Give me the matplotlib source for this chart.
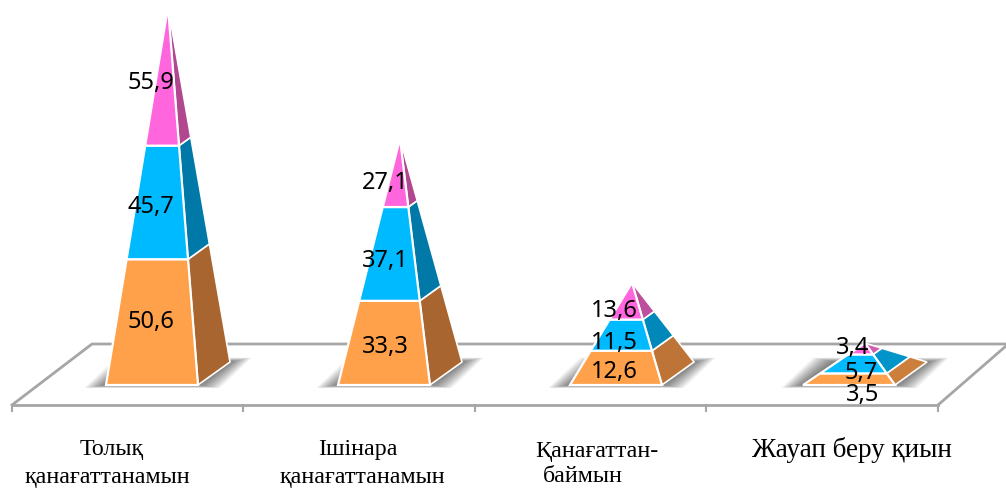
import matplotlib
matplotlib.use("Agg")
import matplotlib.pyplot as plt
from matplotlib.patches import Polygon

categories = ["Толық\nқанағаттанамын", "Ішінара\nқанағаттанамын", "Қанағаттан-\nбаймын", "Жауап беру қиын"]
series_bottom = [50.6, 33.3, 12.6, 3.5]
series_middle = [45.7, 37.1, 11.5, 5.7]
series_top = [55.9, 27.1, 13.6, 3.4]
bottom_labels = ["50,6", "33,3", "12,6", "3,5"]
middle_labels = ["45,7", "37,1", "11,5", "5,7"]
top_labels = ["55,9", "27,1", "13,6", "3,4"]

front_colors = ["#FFA04A", "#00BAFF", "#FF66DD"]
side_colors = [["#A8652F", "#0079A8", "#B0478F"],
               ["#A8652F", "#0079A8", "#B0478F"],
               ["#BE7436", "#0088BA", "#BC4F9E"],
               ["#CC7F3D", "#0094C8", "#D05FB0"]]

# all layout in pixels of the 1006x488 picture
px_per_unit = 2.41
front_left = [106, 338, 570, 803]
base_w = 92
base_dx, base_dy = 32, 23
front_y = 385
floor_ticks = [12, 243, 475, 706, 938]

# label x per pyramid and segment, y is shifted from the middle of the segment
label_x = [[151, 151, 151], [385, 385, 385], [614, 614, 614], [863, 861, 853]]
label_dy = [[0, 5, 7], [4, 7, 10], [4, 8, 10], [16, 9, -1]]

fig = plt.figure(figsize=(10.06, 4.88), dpi=100)
ax = fig.add_axes([0, 0, 1, 1])
ax.set_xlim(0, 1006)
ax.set_ylim(488, 0)
ax.axis("off")

# floor
grey = "#A6A6A6"
ax.plot([12, 938], [405, 405], color=grey, lw=2, zorder=1)
ax.plot([12, 92, 1006], [405, 344, 344], color=grey, lw=2, zorder=1)
ax.plot([938, 1006], [405, 346], color=grey, lw=2, zorder=1)
for t in floor_ticks:
    ax.plot([t, t], [405, 411], color=grey, lw=1.5, zorder=1)


def lerp(p, q, f):
    return (p[0] + (q[0] - p[0]) * f, p[1] + (q[1] - p[1]) * f)


for i in range(len(categories)):
    vals = [series_bottom[i], series_middle[i], series_top[i]]
    labels = [bottom_labels[i], middle_labels[i], top_labels[i]]
    total = sum(vals)
    fl = (front_left[i], front_y)
    fr = (front_left[i] + base_w, front_y)
    br = (fr[0] + base_dx, front_y - base_dy)
    bl = (fl[0] + base_dx, front_y - base_dy)
    apex = ((fl[0] + br[0]) / 2, (fl[1] + br[1]) / 2 - total * px_per_unit)

    # soft shadow on the floor
    for k in range(1, 21):
        dx, dy = k * 1.1, k * 0.22
        shadow = [(fl[0] - dx, fl[1] + dy * 0.7), (fr[0] + dx, fr[1] + dy * 0.7),
                  (br[0] + dx, br[1] - dy), (bl[0] - dx, bl[1] - dy)]
        ax.add_patch(Polygon(shadow, closed=True, fc="black", ec="none", alpha=0.03, zorder=2))

    start = 0.0
    for j, v in enumerate(vals):
        f0 = start / total
        f1 = (start + v) / total
        side = [lerp(fr, apex, f0), lerp(br, apex, f0), lerp(br, apex, f1), lerp(fr, apex, f1)]
        front = [lerp(fl, apex, f0), lerp(fr, apex, f0), lerp(fr, apex, f1), lerp(fl, apex, f1)]
        ax.add_patch(Polygon(side, closed=True, fc=side_colors[i][j], ec="white", lw=1.2, zorder=3 + j))
        ax.add_patch(Polygon(front, closed=True, fc=front_colors[j], ec="white", lw=1.6, zorder=3 + j))
        mid_y = (front[0][1] + front[2][1]) / 2
        ax.text(label_x[i][j], mid_y + label_dy[i][j], labels[j], ha="center", va="center",
                fontsize=17, family="Noto Sans", color="black", zorder=10)
        start += v

# category labels, each line placed by hand like in the picture
cat_lines = [[(112, 449), (107, 477)], [(358, 450), (362, 477)], [(597, 451), (583, 477)], [(852, 450)]]
for i, cat in enumerate(categories):
    for line, (x, y) in zip(cat.split("\n"), cat_lines[i]):
        size = 19.5 if i == 3 else 17.3
        ax.text(x, y, line, ha="center", va="center", fontsize=size,
                family="Liberation Serif", color="black", zorder=10)

fig.savefig("out.png", dpi=100)
